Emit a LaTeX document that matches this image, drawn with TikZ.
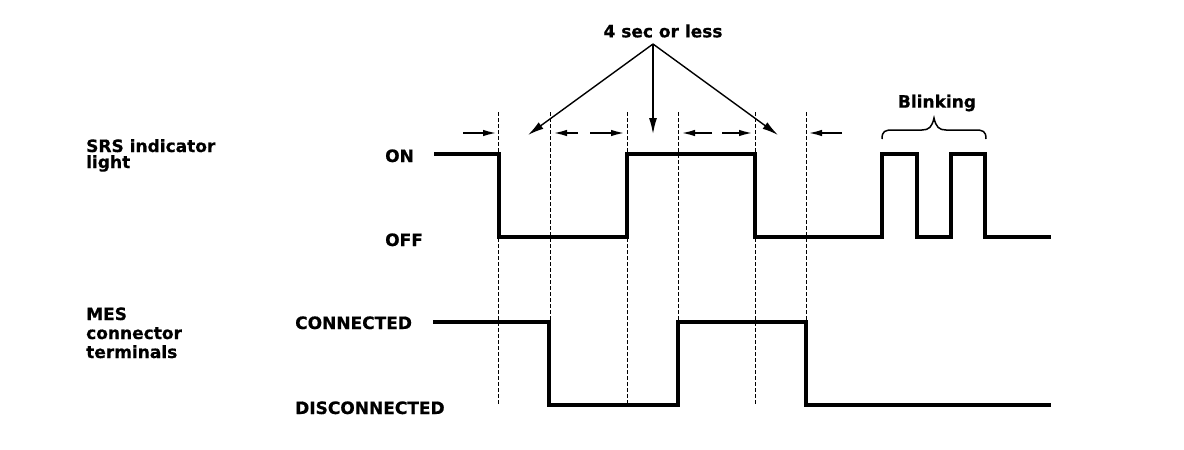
\documentclass[tikz,border=0pt]{standalone}
\usepackage{fontspec}
\newfontfamily\lab{DejaVu Sans}[FakeBold=0.6]
\usetikzlibrary{arrows.meta}
\tikzset{
  lbl/.style={font=\lab\bfseries\fontsize{17}{17}\selectfont, inner sep=0pt},
  sig/.style={line width=3.2pt, line join=miter, line cap=butt},
  guide/.style={line width=0.9pt, dash pattern=on 3.5pt off 2.5pt},
  tip/.style={-{Latex[length=16pt,width=8pt]}, line width=1.4pt},
  dimtip/.style={-{Latex[length=14pt,width=6.5pt]}, line width=2pt},
}
\begin{document}
\begin{tikzpicture}[x=1pt,y=-1pt]
\useasboundingbox (0,0) rectangle (1184,450);

% guide lines
\foreach \gx/\gn in {498/g1,550/g2,627/g3,678/g4,755/g5,806/g6}{
  \coordinate (\gn t) at (\gx,112);
  \coordinate (\gn b) at (\gx,404);
  \draw[guide] (\gn t) -- (\gn b);
}

% labels
\node[lbl, anchor=base west] (srs1) at (86,152) {SRS indicator};
\node[lbl, anchor=base west] (srs2) at (86,168) {light};
\node[lbl, anchor=base west] (on) at (385,162) {ON};
\node[lbl, anchor=base west] (off) at (385,246) {OFF};
\node[lbl, anchor=base west] (mes1) at (86,320) {MES};
\node[lbl, anchor=base west] (mes2) at (86,339) {connector};
\node[lbl, anchor=base west] (mes3) at (86,358) {terminals};
\node[lbl, anchor=base west] (con) at (295,329) {CONNECTED};
\node[lbl, anchor=base west] (dis) at (295,414) {DISCONNECTED};
\node[lbl] (four) at (663,31) {4 sec or less};
\node[lbl] (blink) at (937,103) {Blinking};

% SRS signal
\draw[sig] (434,154) -- (499,154) -- (499,237) -- (627,237) -- (627,154)
  -- (755,154) -- (755,237) -- (882,237) -- (882,154) -- (917,154)
  -- (917,237) -- (951,237) -- (951,154) -- (985,154) -- (985,237) -- (1051,237);

% MES signal
\draw[sig] (433,322) -- (549,322) -- (549,405) -- (678,405) -- (678,322)
  -- (806,322) -- (806,405) -- (1051,405);

% 4 sec arrows
\coordinate (apex) at (653,44);
\coordinate (a1) at (528,135);
\coordinate (a2) at (653,134);
\coordinate (a3) at (778,135);
\draw[tip] (apex) -- (a1);
\draw[tip] (apex) -- (a2);
\draw[tip] (apex) -- (a3);

% dimension arrows
\coordinate (d1s) at (463,133); \coordinate (d1e) at (497,133);
\draw[dimtip] (d1s) -- (d1e);
\coordinate (d2a) at (578,133); \coordinate (d2b) at (553,133);
\coordinate (d2c) at (590,133); \coordinate (d2d) at (625,133);
\draw[dimtip] (d2a) -- (d2b);
\draw[dimtip] (d2c) -- (d2d);
\coordinate (d3a) at (712,133); \coordinate (d3b) at (681,133);
\coordinate (d3c) at (722,133); \coordinate (d3d) at (753,133);
\draw[dimtip] (d3a) -- (d3b);
\draw[dimtip] (d3c) -- (d3d);
\coordinate (d4s) at (842,133); \coordinate (d4e) at (808,133);
\draw[dimtip] (d4s) -- (d4e);

% brace
\draw[line width=1.5pt] (882,139) .. controls (882,131) and (885,130) .. (893,130)
  -- (922,130) .. controls (929,130) and (932,127) .. (934,118)
  .. controls (936,127) and (939,130) .. (946,130) -- (975,130)
  .. controls (983,130) and (986,131) .. (986,139);
\end{tikzpicture}
\end{document}
